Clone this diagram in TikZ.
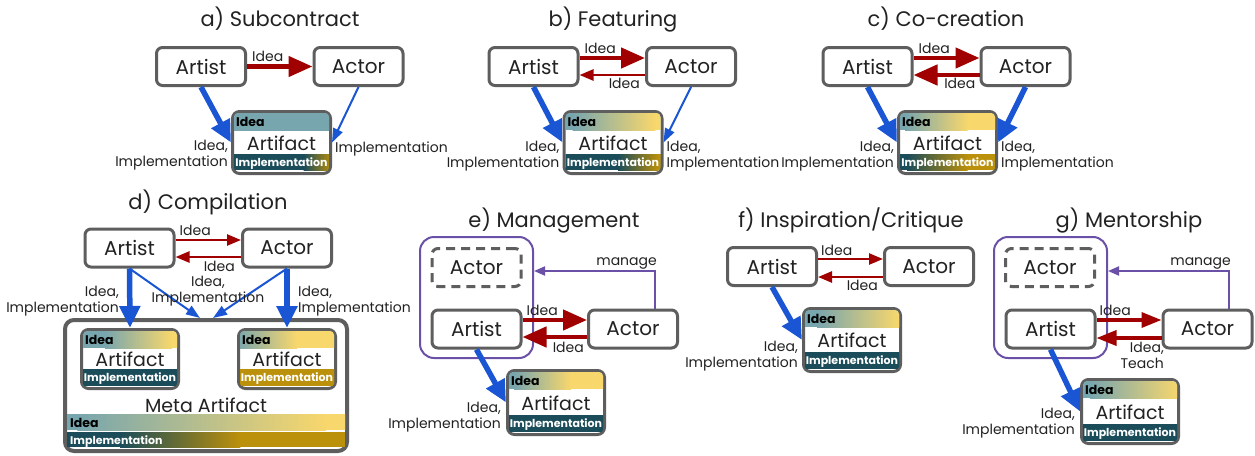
\documentclass[tikz,border=0pt]{standalone}
\usepackage{fontspec}
\setmainfont{Poppins}
\usetikzlibrary{arrows.meta,calc}
\definecolor{ideaT}{HTML}{78A6AE}
\definecolor{ideaY}{HTML}{F8D76C}
\definecolor{implT}{HTML}{1B4C59}
\definecolor{implG}{HTML}{BB900B}
\definecolor{boxgray}{HTML}{5E5E5E}
\definecolor{blu}{HTML}{1A56D4}
\definecolor{darkred}{HTML}{A00000}
\definecolor{purp}{HTML}{6B50A8}
\definecolor{txt}{HTML}{222222}
\tikzset{
  box/.style={draw=boxgray, line width=3pt, rounded corners=6pt, fill=white, minimum width=89pt, minimum height=38pt, font=\fontsize{20}{23}\selectfont, inner sep=0pt, text=txt},
  ghost/.style={box, dash pattern=on 9pt off 6pt},
  artbox/.style={draw=boxgray, line width=3pt, rounded corners=7pt, fill=white, inner sep=0pt},
  container/.style={draw=purp, line width=2pt, rounded corners=14pt, inner sep=0pt},
  lbl/.style={font=\fontsize{14}{16}\selectfont, inner sep=0pt, text=txt},
  ttl/.style={font=\fontsize{21}{25}\selectfont, inner sep=0pt, anchor=base, text=txt},
  ideatxt/.style={font=\bfseries\fontsize{12.5}{14}\selectfont, inner sep=0pt, text=black},
  impltxt/.style={font=\bfseries\fontsize{11}{13}\selectfont, inner sep=0pt, text=white},
  arttxt/.style={font=\fontsize{19}{22}\selectfont, inner sep=0pt, text=txt},
  redthick/.style={draw=darkred, line width=4.5pt, -{Triangle[length=24pt,width=20pt]}},
  redmid/.style={draw=darkred, line width=3.5pt, -{Triangle[length=20pt,width=15pt]}},
  redthin/.style={draw=darkred, line width=2.5pt, -{Triangle[length=14pt,width=11pt]}},
  bluethick/.style={draw=blu, line width=5.5pt, -{Triangle[length=22pt,width=20pt]}},
  bluethin/.style={draw=blu, line width=2pt, -{Triangle[length=14pt,width=10pt]}},
  manage/.style={draw=purp, line width=2pt, -{Triangle[length=11pt,width=9pt]}},
}
% gradient bar: #1 left-top coordinate name, #2 right-top coordinate name, #3 height,
% #4 colour A, #5 colour B, #6 fraction where A ends, #7 fraction where B starts
\newcommand{\gbar}[7]{%
  \fill[#4] (#1) rectangle ($(#2)+(0,#3)$);
  \fill[#5] ($(#1)!#7!(#2)+(-0.5,0)$) rectangle ($(#2)+(0,#3)$);
  \shade[left color=#4, right color=#5] ($(#1)!#6!(#2)$) rectangle ($(#1)!#7!(#2)+(0,#3)$);
}
% artifact: name, cx, cy, width, height, {idea spec}, {impl spec}
\newcommand{\mkartifact}[7]{%
  \node[artbox, minimum width=#4, minimum height=#5] (#1) at (#2,#3) {};
  \coordinate (#1-ia) at (#1.north west);
  \coordinate (#1-ib) at (#1.north east);
  \coordinate (#1-pa) at ($(#1.south west)+(0,-21)$);
  \coordinate (#1-pb) at ($(#1.south east)+(0,-21)$);
  \begin{scope}
    \clip[rounded corners=4pt] ($(#1.north west)+(3,3)$) rectangle ($(#1.south east)+(-3,-3)$);
    \gbar{#1-ia}{#1-ib}{20}#6
    \gbar{#1-pa}{#1-pb}{16}#7
  \end{scope}
  \node[ideatxt, anchor=base west] at ($(#1.north west)+(5,16.5)$) {Idea};
  \node[impltxt, anchor=base] at ($(#1.south)+(0,-8.5)$) {Implementation};
  \node[arttxt] at ($(#1.center)+(0,0.5)$) {Artifact};
}
\begin{document}
\begin{tikzpicture}[x=1pt,y=-1pt]
\useasboundingbox[fill=white] (0,0) rectangle (1255,455);

% ---------------- a) Subcontract
\node[ttl] (aT) at (280,27) {a) Subcontract};
\node[box] (aArtist) at (201,66.5) {Artist};
\node[box] (aActor) at (358.5,66.5) {Actor};
\mkartifact{aArt}{281.5}{142.5}{98}{62}{{ideaT}{ideaT}{0}{1}}{{implT}{implG}{0.72}{1}}
\draw[redthick] (aArtist.east) -- (aActor.west);
\node[lbl, anchor=base west] (aL1) at ($(aArtist.east)+(5,-5.5)$) {Idea};
\draw[bluethick] (aArtist.south) -- (aArt.west);
\draw[bluethin] (aActor.south) -- (aArt.east);
\node[lbl, anchor=north east, align=right] (aL2) at ($(aArt.west)+(-3,-3)$) {Idea,\\Implementation};
\node[lbl, anchor=base west] (aL3) at ($(aArt.east)+(3,9.5)$) {Implementation};

% ---------------- b) Featuring
\node[ttl] (bT) at (613,27) {b) Featuring};
\node[box] (bArtist) at (533.5,66.5) {Artist};
\node[box] (bActor) at (691,66.5) {Actor};
\mkartifact{bArt}{613}{142.5}{98}{62}{{ideaT}{ideaY}{0.1}{0.92}}{{implT}{implG}{0.55}{0.95}}
\draw[redthick] ($(bArtist.east)+(0,-8.5)$) -- ($(bActor.west)+(0,-8.5)$);
\draw[redthin] ($(bActor.west)+(0,8.5)$) -- ($(bArtist.east)+(0,8.5)$);
\node[lbl, anchor=base west] (bL1) at ($(bArtist.east)+(5,-13.5)$) {Idea};
\node[lbl, anchor=base east] (bL2) at ($(bActor.west)+(-5,21.5)$) {Idea};
\draw[bluethick] (bArtist.south) -- (bArt.west);
\draw[bluethin] (bActor.south) -- (bArt.east);
\node[lbl, anchor=north east, align=right] (bL3) at ($(bArt.west)+(-3,-2)$) {Idea,\\Implementation};
\node[lbl, anchor=north west, align=left] (bL4) at ($(bArt.east)+(3,-2)$) {Idea,\\Implementation};

% ---------------- c) Co-creation
\node[ttl] (cT) at (946,27) {c) Co-creation};
\node[box] (cArtist) at (867.5,66.5) {Artist};
\node[box] (cActor) at (1025.5,66.5) {Actor};
\mkartifact{cArt}{947.5}{142.5}{98}{62}{{ideaT}{ideaY}{0.08}{0.7}}{{implT}{implG}{0.1}{0.7}}
\draw[redthick] ($(cArtist.east)+(0,-8.5)$) -- ($(cActor.west)+(0,-8.5)$);
\draw[redthick] ($(cActor.west)+(0,8.5)$) -- ($(cArtist.east)+(0,8.5)$);
\node[lbl, anchor=base west] (cL1) at ($(cArtist.east)+(5,-13.5)$) {Idea};
\node[lbl, anchor=base east] (cL2) at ($(cActor.west)+(-4,22)$) {Idea};
\draw[bluethick] (cArtist.south) -- (cArt.west);
\draw[bluethick] (cActor.south) -- (cArt.east);
\node[lbl, anchor=north east, align=right] (cL3) at ($(cArt.west)+(-3,-2)$) {Idea,\\Implementation};
\node[lbl, anchor=north west, align=left] (cL4) at ($(cArt.east)+(3,-2)$) {Idea,\\Implementation};

% ---------------- d) Compilation
\node[ttl] (dT) at (208,209) {d) Compilation};
\node[box] (dArtist) at (129.5,248) {Artist};
\node[box] (dActor) at (287,248) {Actor};
\node[artbox, line width=4pt, rounded corners=9pt, minimum width=282, minimum height=131] (dMeta) at (206,385.5) {};
\coordinate (dM-ia) at ($(dMeta.north west)+(0,96)$);
\coordinate (dM-ib) at ($(dMeta.north east)+(0,96)$);
\coordinate (dM-pa) at ($(dMeta.north west)+(0,114)$);
\coordinate (dM-pb) at ($(dMeta.north east)+(0,114)$);
\begin{scope}
  \clip ($(dMeta.north west)+(4,4)$) rectangle ($(dMeta.south east)+(-4,-4)$);
  \gbar{dM-ia}{dM-ib}{16}{ideaT}{ideaY}{0.05}{0.92}
  \gbar{dM-pa}{dM-pb}{15}{implT}{implG}{0.2}{0.62}
\end{scope}
\node[arttxt] (dMT) at ($(dMeta.north)+(0,87)$) {Meta Artifact};
\node[ideatxt, anchor=base west] (dMI) at ($(dMeta.north west)+(7,109)$) {Idea};
\node[impltxt, anchor=base west] (dMP) at ($(dMeta.north west)+(7,126)$) {Implementation};
\mkartifact{dAone}{130}{359}{97}{59}{{ideaT}{ideaY}{0.25}{0.92}}{{implT}{implT}{0}{1}}
\mkartifact{dAtwo}{287}{359}{97}{59}{{ideaT}{ideaY}{0}{0.6}}{{implG}{implG}{0}{1}}
\draw[redthin] ($(dArtist.east)+(0,-8)$) -- ($(dActor.west)+(0,-8)$);
\draw[redthin] ($(dActor.west)+(0,9)$) -- ($(dArtist.east)+(0,9)$);
\node[lbl, anchor=base west] (dL1) at ($(dArtist.east)+(4,-13)$) {Idea};
\node[lbl, anchor=base east] (dL2) at ($(dActor.west)+(-6,23)$) {Idea};
\draw[bluethin] (dArtist.south) -- ($(dMeta.north)+(-6,0)$);
\draw[bluethin] (dActor.south) -- ($(dMeta.north)+(7,0)$);
\draw[bluethick] (dArtist.south) -- (dAone.north);
\draw[bluethick] (dActor.south) -- (dAtwo.north);
\node[lbl, anchor=north east, align=right] (dL3) at (119,286) {Idea,\\Implementation};
\node[lbl, anchor=north west, align=left] (dL4) at (298,286) {Idea,\\Implementation};
\node[lbl, anchor=north, align=center] (dL5) at (208,276) {Idea,\\Implementation};

% ---------------- e) Management
\node[ttl] (eT) at (554,227) {e) Management};
\node[container, minimum width=113, minimum height=121] (ePurple) at (476.5,297.5) {};
\node[ghost] (eGhost) at (476.5,267.5) {Actor};
\node[box] (eArtist) at (476.5,329) {Artist};
\node[box] (eActor) at (633,329) {Actor};
\mkartifact{eArt}{556}{402.5}{97}{64}{{ideaT}{ideaY}{0.08}{0.65}}{{implT}{implT}{0}{1}}
\draw[redthick] ($(eArtist.east)+(0,-9)$) -- ($(eActor.west)+(0,-9)$);
\draw[redthick] ($(eActor.west)+(0,8)$) -- ($(eArtist.east)+(0,8)$);
\node[lbl, anchor=base west] (eL1) at ($(eArtist.east)+(4,-14)$) {Idea};
\node[lbl, anchor=base east] (eL2) at ($(eActor.west)+(-3,23)$) {Idea};
\draw[manage] ($(eActor.north)+(22,0)$) |- ($(ePurple.east)+(0,-26.5)$);
\node[lbl, anchor=base east] (eL3) at (657,265) {manage};
\draw[bluethick] (eArtist.south) -- (eArt.west);
\node[lbl, anchor=north east, align=right] (eL4) at ($(eArt.west)+(-5,-1)$) {Idea,\\Implementation};

% ---------------- f) Inspiration/Critique
\node[ttl] (fT) at (851,227) {f) Inspiration/Critique};
\node[box] (fArtist) at (772,266.5) {Artist};
\node[box] (fActor) at (929,266.5) {Actor};
\mkartifact{fArt}{852}{340}{97}{63}{{ideaT}{ideaY}{0.15}{0.97}}{{implT}{implT}{0}{1}}
\draw[redthin] ($(fArtist.east)+(0,-7.5)$) -- ($(fActor.west)+(0,-7.5)$);
\draw[redthin] ($(fActor.west)+(0,10.5)$) -- ($(fArtist.east)+(0,10.5)$);
\node[lbl, anchor=base west] (fL1) at ($(fArtist.east)+(3,-11.5)$) {Idea};
\node[lbl, anchor=base east] (fL2) at ($(fActor.west)+(-5,24)$) {Idea};
\draw[bluethick] (fArtist.south) -- (fArt.west);
\node[lbl, anchor=north east, align=right] (fL3) at ($(fArt.west)+(-4,1)$) {Idea,\\Implementation};

% ---------------- g) Mentorship
\node[ttl] (gT) at (1129,227) {g) Mentorship};
\node[container, minimum width=113, minimum height=121] (gPurple) at (1050.5,297.5) {};
\node[ghost] (gGhost) at (1050,267.5) {Actor};
\node[box] (gArtist) at (1050.5,329) {Artist};
\node[box] (gActor) at (1207.5,329) {Actor};
\mkartifact{gArt}{1130}{411.5}{97}{64}{{ideaT}{ideaY}{0.1}{1}}{{implT}{implT}{0}{1}}
\draw[redmid] ($(gArtist.east)+(0,-9)$) -- ($(gActor.west)+(0,-9)$);
\draw[redmid] ($(gActor.west)+(0,9)$) -- ($(gArtist.east)+(0,9)$);
\node[lbl, anchor=base west] (gL1) at ($(gArtist.east)+(3,-14)$) {Idea};
\node[lbl, anchor=north east, align=right] (gL2) at (1164,342) {Idea,\\Teach};
\draw[manage] ($(gActor.north)+(21.5,0)$) |- ($(gPurple.east)+(0,-26.5)$);
\node[lbl, anchor=base east] (gL3) at (1231,265) {manage};
\draw[bluethick] (gArtist.south) -- (gArt.west);
\node[lbl, anchor=north east, align=right] (gL4) at ($(gArt.west)+(-5,-4)$) {Idea,\\Implementation};
\end{tikzpicture}
\end{document}
